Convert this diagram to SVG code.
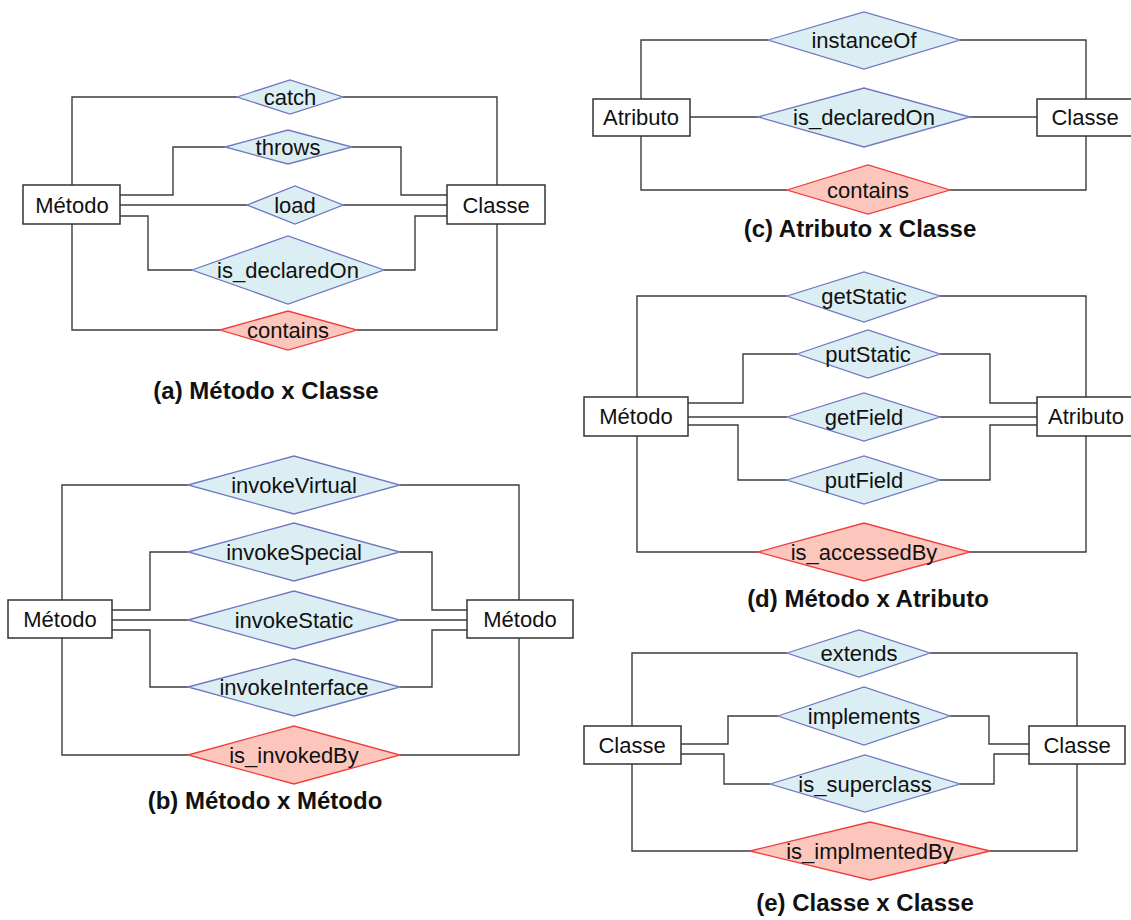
<svg xmlns="http://www.w3.org/2000/svg" width="1131" height="920" viewBox="0 0 1131 920">
  <style>
    .box { fill: #ffffff; stroke: #333333; stroke-width: 1.5; }
    .rel { fill: #dbeef3; stroke: #7077c0; stroke-width: 1.3; }
    .inv { fill: #fdc6bc; stroke: #f03c3c; stroke-width: 1.3; }
    .wire { fill: none; stroke: #3c3c3c; stroke-width: 1.4; }
    text { font-family: "Liberation Sans", Arial, sans-serif; fill: #111111; }
    .lbl { font-size: 22px; text-anchor: middle; dominant-baseline: central; }
    .title { font-size: 24px; font-weight: bold; text-anchor: middle; dominant-baseline: central; }
  </style>

  <rect width="1131" height="920" fill="#ffffff"/>

  <!-- connectors -->
  <g id="connectors" class="wire">
    <!-- (a) -->
    <path d="M72 185 V97 H237 M343 97 H497 V185"/>
    <path d="M120 195 H173 V147 H225 M352 147 H401 V195 H447"/>
    <path d="M120 205 H247 M343 205 H447"/>
    <path d="M120 216 H148 V270 H192 M384 270 H415 V216 H447"/>
    <path d="M72 224 V330 H220 M357 330 H497 V224"/>
    <!-- (b) -->
    <path d="M62 600 V485 H188 M400 485 H519 V600"/>
    <path d="M112 610 H150 V552 H188 M400 552 H432 V610 H467"/>
    <path d="M112 620 H188 M400 620 H467"/>
    <path d="M112 630 H150 V687 H188 M400 687 H432 V630 H467"/>
    <path d="M62 638 V755 H188 M400 755 H519 V638"/>
    <!-- (c) -->
    <path d="M641 99 V40 H768 M960 40 H1086 V99"/>
    <path d="M690 117 H758 M970 117 H1037"/>
    <path d="M641 136 V190 H787 M950 190 H1086 V136"/>
    <!-- (d) -->
    <path d="M637 397 V296 H787 M940 296 H1086 V397"/>
    <path d="M688 403 H743 V354 H797 M940 354 H990 V403 H1037"/>
    <path d="M688 417 H787 M940 417 H1037"/>
    <path d="M688 425 H738 V480 H787 M940 480 H990 V425 H1037"/>
    <path d="M637 436 V552 H758 M970 552 H1086 V436"/>
    <!-- (e) -->
    <path d="M632 726 V653 H787 M930 653 H1077 V726"/>
    <path d="M681 744 H728 V716 H778 M950 716 H989 V744 H1029"/>
    <path d="M681 754 H724 V784 H770 M960 784 H994 V754 H1029"/>
    <path d="M632 764 V851 H750 M990 851 H1077 V764"/>
  </g>

  <!-- (a) Método x Classe -->
  <g id="a-metodo"><rect class="box" x="23" y="185" width="97" height="39"/><text class="lbl" x="72" y="205">Método</text></g>
  <g id="a-classe"><rect class="box" x="447" y="185" width="98" height="39"/><text class="lbl" x="496" y="205">Classe</text></g>
  <g id="a-catch"><polygon class="rel" points="237,97 290,80 343,97 290,114"/><text class="lbl" x="290" y="97">catch</text></g>
  <g id="a-throws"><polygon class="rel" points="225,147 288,130 352,147 288,164"/><text class="lbl" x="288" y="147">throws</text></g>
  <g id="a-load"><polygon class="rel" points="247,205 295,186 343,205 295,224"/><text class="lbl" x="295" y="205">load</text></g>
  <g id="a-declared"><polygon class="rel" points="192,270 288,236 384,270 288,304"/><text class="lbl" x="288" y="270">is_declaredOn</text></g>
  <g id="a-contains"><polygon class="inv" points="220,330 288,311 357,330 288,350"/><text class="lbl" x="288" y="330">contains</text></g>
  <text class="title" x="266" y="390">(a) Método x Classe</text>

  <!-- (b) Método x Método -->
  <g id="b-metodo-l"><rect class="box" x="8" y="600" width="104" height="38"/><text class="lbl" x="60" y="619">Método</text></g>
  <g id="b-metodo-r"><rect class="box" x="467" y="600" width="106" height="38"/><text class="lbl" x="520" y="619">Método</text></g>
  <g id="b-virtual"><polygon class="rel" points="188,485 294,456 400,485 294,514"/><text class="lbl" x="294" y="485">invokeVirtual</text></g>
  <g id="b-special"><polygon class="rel" points="188,552 294,523 400,552 294,581"/><text class="lbl" x="294" y="552">invokeSpecial</text></g>
  <g id="b-static"><polygon class="rel" points="188,620 294,591 400,620 294,649"/><text class="lbl" x="294" y="620">invokeStatic</text></g>
  <g id="b-interface"><polygon class="rel" points="188,687 294,659 400,687 294,716"/><text class="lbl" x="294" y="687">invokeInterface</text></g>
  <g id="b-invokedby"><polygon class="inv" points="188,755 294,726 400,755 294,784"/><text class="lbl" x="294" y="755">is_invokedBy</text></g>
  <text class="title" x="265" y="800">(b) Método x Método</text>

  <!-- (c) Atributo x Classe -->
  <g id="c-atributo"><rect class="box" x="593" y="99" width="97" height="37"/><text class="lbl" x="641" y="117">Atributo</text></g>
  <g id="c-classe"><rect class="box" x="1037" y="99" width="100" height="37"/><text class="lbl" x="1085" y="117">Classe</text></g>
  <g id="c-instanceof"><polygon class="rel" points="768,40 864,12 960,40 864,69"/><text class="lbl" x="864" y="40">instanceOf</text></g>
  <g id="c-declared"><polygon class="rel" points="758,117 864,88 970,117 864,147"/><text class="lbl" x="864" y="117">is_declaredOn</text></g>
  <g id="c-contains"><polygon class="inv" points="787,190 868,165 950,190 868,214"/><text class="lbl" x="868" y="190">contains</text></g>
  <text class="title" x="860" y="228">(c) Atributo x Classe</text>

  <!-- (d) Método x Atributo -->
  <g id="d-metodo"><rect class="box" x="584" y="397" width="104" height="39"/><text class="lbl" x="636" y="416">Método</text></g>
  <g id="d-atributo"><rect class="box" x="1037" y="397" width="100" height="39"/><text class="lbl" x="1086" y="416">Atributo</text></g>
  <g id="d-getstatic"><polygon class="rel" points="787,296 864,272 940,296 864,322"/><text class="lbl" x="864" y="296">getStatic</text></g>
  <g id="d-putstatic"><polygon class="rel" points="797,354 868,330 940,354 868,378"/><text class="lbl" x="868" y="354">putStatic</text></g>
  <g id="d-getfield"><polygon class="rel" points="787,417 864,393 940,417 864,441"/><text class="lbl" x="864" y="417">getField</text></g>
  <g id="d-putfield"><polygon class="rel" points="787,480 864,456 940,480 864,504"/><text class="lbl" x="864" y="480">putField</text></g>
  <g id="d-accessedby"><polygon class="inv" points="758,552 864,523 970,552 864,581"/><text class="lbl" x="864" y="552">is_accessedBy</text></g>
  <text class="title" x="868" y="598">(d) Método x Atributo</text>

  <!-- (e) Classe x Classe -->
  <g id="e-classe-l"><rect class="box" x="584" y="726" width="97" height="38"/><text class="lbl" x="632" y="745">Classe</text></g>
  <g id="e-classe-r"><rect class="box" x="1029" y="726" width="96" height="38"/><text class="lbl" x="1077" y="745">Classe</text></g>
  <g id="e-extends"><polygon class="rel" points="787,653 859,630 930,653 859,677"/><text class="lbl" x="859" y="653">extends</text></g>
  <g id="e-implements"><polygon class="rel" points="778,716 864,687 950,716 864,745"/><text class="lbl" x="864" y="716">implements</text></g>
  <g id="e-superclass"><polygon class="rel" points="770,784 865,755 960,784 865,812"/><text class="lbl" x="865" y="784">is_superclass</text></g>
  <g id="e-implementedby"><polygon class="inv" points="750,851 870,822 990,851 870,880"/><text class="lbl" x="870" y="851">is_implmentedBy</text></g>
  <text class="title" x="865" y="902">(e) Classe x Classe</text>
</svg>
